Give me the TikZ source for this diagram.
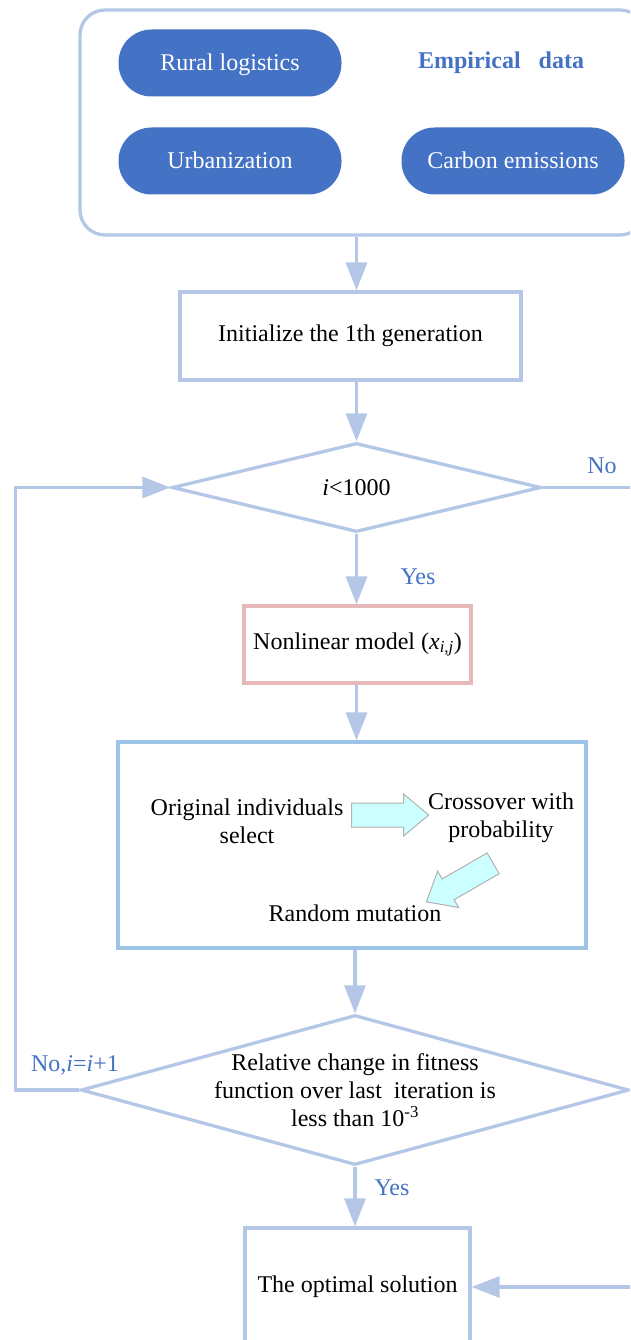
\documentclass[tikz,border=0pt]{standalone}
\usepackage{fontspec}
\setmainfont{Liberation Serif}
\usepackage{tikz}
\usetikzlibrary{arrows.meta,positioning,shapes.geometric,shapes.arrows}
\usepackage{xcolor}
\definecolor{flowline}{HTML}{B4C7E7}
\definecolor{pillblue}{HTML}{4472C4}
\definecolor{gaframe}{HTML}{9DC3E6}
\definecolor{modelframe}{HTML}{E6B9B8}
\definecolor{blockfill}{HTML}{CCFFFF}
\newcommand{\flowfont}{\fontsize{24}{28}\selectfont}

\begin{document}
\begin{tikzpicture}[x=1pt, y=-1pt,
    box/.style={draw=flowline, line width=3.3pt, fill=white, font=\flowfont, align=center, inner sep=0pt},
    pill/.style={fill=pillblue, text=white, rounded corners=33pt, minimum width=223pt, minimum height=67pt, font=\flowfont, inner sep=0pt, text depth=2pt},
    cond/.style={draw=flowline, line width=3.3pt, diamond, inner sep=0pt},
    txt/.style={font=\flowfont, align=center, inner sep=0pt},
    lbl/.style={font=\flowfont, text=pillblue, inner sep=0pt},
    link/.style={flowline, line width=3.3pt},
    blockarrow/.style={single arrow, draw=black!30, fill=blockfill, line width=1pt, single arrow head extend=9pt, single arrow tip angle=80, inner sep=11.5pt, minimum height=77pt},
    >={Triangle[length=28pt, width=21pt]}
  ]
  \path[use as bounding box, clip] (0,0) rectangle (630,1340);

  % input data
  \node[box, rounded corners=25pt, minimum width=565pt, minimum height=225pt] (data) at (362.5,122.5) {};
  \node[pill] (rural) at (230,63) {Rural logistics};
  \node[pill] (urban) at (230,161) {Urbanization};
  \node[pill] (carbon) at (513,161) {Carbon emissions};
  \node[lbl, font=\flowfont\bfseries] (empirical) at (501,63) {Empirical\hspace{0.5em} data};

  % main loop
  \node[box, minimum width=341pt, minimum height=88pt] (init) at (350.5,336) {Initialize the 1th generation};
  \node[cond, minimum width=369pt, minimum height=89pt] (check) at (356.5,487.5) {};
  \node[txt] (checktxt) at (check) {\textit{i}<1000};
  \node[box, draw=modelframe, minimum width=227pt, minimum height=77pt] (model) at (357.5,644.5) {Nonlinear model (\textit{x}\textsubscript{\textit{i},\textit{j}})};
  \node[box, draw=gaframe, minimum width=468pt, minimum height=206pt] (ga) at (352,845) {};
  \node[txt] (select) at (247,821) {Original individuals\\select};
  \node[txt] (cross) at (501,818) {Crossover with\\probability};
  \node[txt] (mutate) at (355,913) {Random mutation};
  \node[blockarrow] (selarrow) at (383,815) {};
  \node[blockarrow, rotate=210] (crossarrow) at (466,879) {};
  \node[cond, minimum width=548pt, minimum height=150pt] (stop) at (355,1090) {};
  \node[txt] (stoptxt) at (stop) {Relative change in fitness\\function over last\ \ iteration is\\less than 10\textsuperscript{-3}};
  \node[box, minimum width=225pt, minimum height=122pt] (opt) at (357.5,1289) {};
  \node[txt] (opttxt) at (357.5,1287) {The optimal solution};

  \coordinate (noend) at (640,487.5);
  \coordinate (nobegin) at (640,1287);

  \draw[link, ->] (data.south -| check.north) -- (init.north -| check.north);
  \draw[link, ->] (init.south -| check.north) -- (check.north);
  \draw[link, ->] (check.south) -- (model.north -| check.south);
  \draw[link, ->] (model.south -| check.south) -- (ga.north -| check.south);
  \draw[link, ->] (ga.south -| stop.north) -- (stop.north);
  \draw[link, ->] (stop.south) -- (opt.north -| stop.south);
  \draw[link, ->] (stop.west) -- ++(-64,0) |- (check.west);
  \draw[link] (check.east) -- (noend);
  \draw[link, ->] (nobegin) -- (opttxt -| opt.east);

  \node[lbl] (yes1) at (418,577) {Yes};
  \node[lbl] (no1) at (602,466) {No};
  \node[lbl] (yes2) at (392,1188) {Yes};
  \node[lbl] (no2) at (75,1065) {No,\textit{i}=\textit{i}+1};
\end{tikzpicture}
\end{document}
